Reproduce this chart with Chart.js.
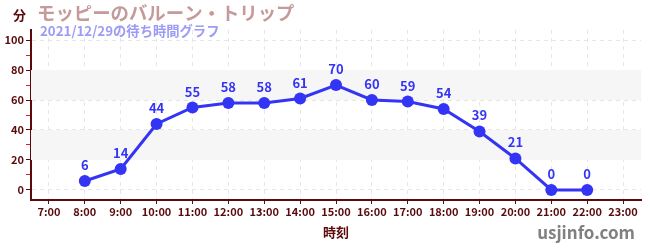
<!DOCTYPE html>
<html><head><meta charset="utf-8">
<script src="https://cdn.jsdelivr.net/npm/chart.js@4/dist/chart.umd.min.js"></script>
<style>html,body{margin:0;padding:0;background:#fff;}canvas{display:block;}</style>
</head><body>
<canvas id="c" width="650" height="250"></canvas>
<script>
const categories = ["7:00","8:00","9:00","10:00","11:00","12:00","13:00","14:00","15:00","16:00","17:00","18:00","19:00","20:00","21:00","22:00","23:00"];
const waitTimes = [null,6,14,44,55,58,58,61,70,60,59,54,39,21,0,0,null];
const yTicks = [0,10,20,30,40,50,60,70,80,90,100];
const bands = [[20,40],[60,80]];
const titleText = "モッピーのバルーン・トリップ";
const subtitleText = "2021/12/29の待ち時間グラフ";
const unitText = "分";
const xTitleText = "時刻";
const siteText = "usjinfo.com";

const MAROON = "#5a0a0a";
const BLUE = "#3434f5";
const FONT = "'Noto Sans CJK JP', 'Noto Sans', sans-serif";

const decor = {
  id: 'decor',
  beforeDatasetsDraw(chart) {
    const {ctx, chartArea: a, scales: {y}} = chart;
    ctx.save();
    ctx.fillStyle = '#f6f6f6';
    bands.forEach(([lo, hi]) => {
      const t = y.getPixelForValue(hi), b = y.getPixelForValue(lo);
      ctx.fillRect(a.left, t, a.right - a.left, b - t);
    });
    ctx.restore();
  },
  afterDatasetsDraw(chart) {
    const {ctx} = chart;
    const meta = chart.getDatasetMeta(0);
    ctx.save();
    ctx.fillStyle = BLUE;
    ctx.font = "bold 13px " + FONT;
    ctx.textAlign = 'center';
    ctx.textBaseline = 'alphabetic';
    meta.data.forEach((pt, i) => {
      const v = waitTimes[i];
      if (v === null) return;
      ctx.fillText(String(v), pt.x, pt.y - 11);
    });
    ctx.restore();
  },
  afterDraw(chart) {
    const {ctx} = chart;
    ctx.save();
    ctx.textBaseline = 'middle';
    ctx.textAlign = 'left';
    ctx.fillStyle = MAROON;
    ctx.font = "bold 13px " + FONT;
    ctx.fillText(unitText, 13, 15);
    ctx.fillStyle = '#c69a9a';
    ctx.font = "bold 18.4px " + FONT;
    ctx.fillText(titleText, 37, 13);
    ctx.fillStyle = '#9c9cf6';
    ctx.font = "bold 13.3px " + FONT;
    ctx.fillText(subtitleText, 40, 31);
    ctx.fillStyle = MAROON;
    ctx.textAlign = 'center';
    ctx.font = "bold 13px " + FONT;
    ctx.fillText(xTitleText, 336, 232);
    ctx.fillStyle = '#808080';
    ctx.textAlign = 'right';
    ctx.font = "bold 17px " + FONT;
    ctx.fillText(siteText, 635, 233);
    ctx.restore();
  }
};

new Chart(document.getElementById('c'), {
  type: 'line',
  data: {
    labels: categories,
    datasets: [{
      data: waitTimes,
      borderColor: BLUE,
      backgroundColor: BLUE,
      borderWidth: 3,
      pointRadius: 6,
      pointHoverRadius: 6,
      pointBackgroundColor: BLUE,
      pointBorderWidth: 0,
      tension: 0,
      spanGaps: false
    }]
  },
  options: {
    responsive: false,
    animation: false,
    events: [],
    layout: {padding: {top: 30, right: 9, left: 0, bottom: 0}},
    plugins: {legend: {display: false}, tooltip: {enabled: false}, title: {display: false}},
    scales: {
      x: {
        offset: true,
        afterFit(s) { s.height = 50; },
        border: {color: MAROON, width: 2, dash: [4,4]},
        grid: {color: '#e6e6e6', tickColor: MAROON, tickLength: 4, offset: false, tickBorderDash: []},
        ticks: {color: MAROON, font: {family: FONT, size: 11, weight: 'bold'}, padding: 1, maxRotation: 0, autoSkip: false}
      },
      y: {
        min: -6.67,
        max: 106.67,
        afterFit(s) { s.width = 31; },
        afterBuildTicks(s) { s.ticks = yTicks.map(v => ({value: v})); },
        border: {color: MAROON, width: 2, dash: [4,4]},
        grid: {
          color: c => (c.tick && c.tick.value % 20 === 0) ? '#e6e6e6' : 'rgba(0,0,0,0)',
          tickColor: c => (c.tick && c.tick.value % 20 === 0) ? MAROON : '#e02020',
          tickLength: 5,
          tickBorderDash: []
        },
        ticks: {
          color: MAROON,
          font: {family: FONT, size: 11, weight: 'bold'},
          padding: 2,
          callback: v => (v % 20 === 0 ? String(v) : '')
        }
      }
    }
  },
  plugins: [decor]
});
</script>
</body></html>
